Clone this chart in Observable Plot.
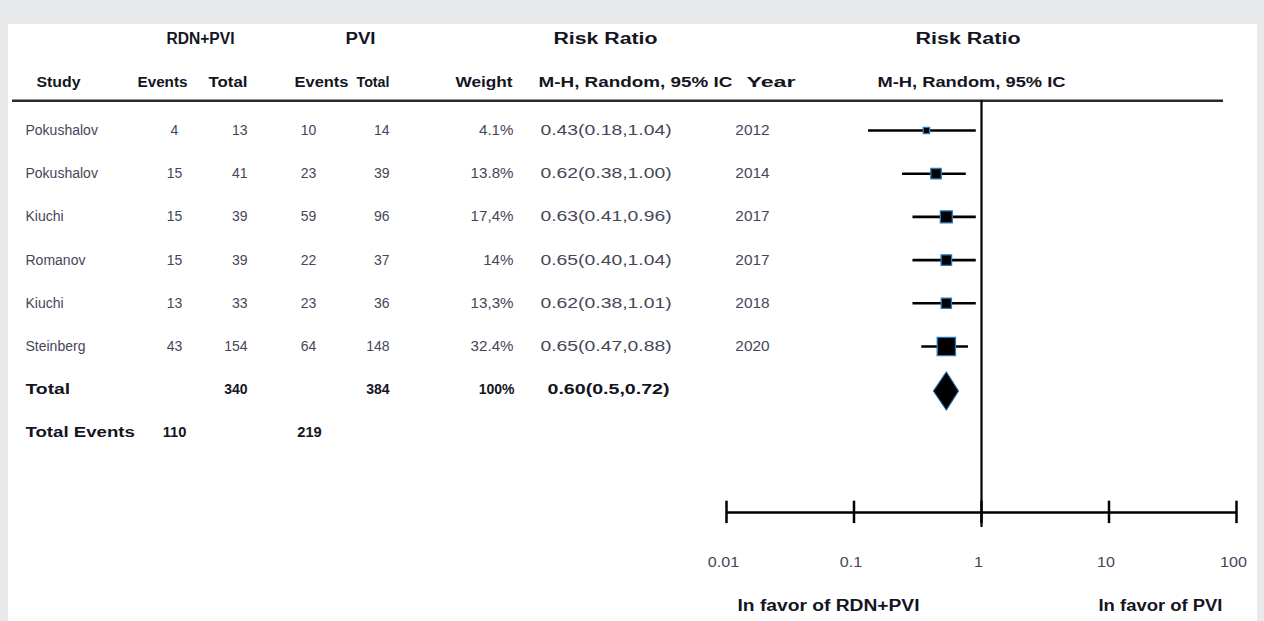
<!DOCTYPE html>
<html><head><meta charset="utf-8">
<script src="https://cdn.jsdelivr.net/npm/d3@7"></script>
<script src="https://cdn.jsdelivr.net/npm/@observablehq/plot@0.6"></script>
<style>
html,body{margin:0;padding:0;background:#e8e9eb;width:1264px;height:621px;overflow:hidden;}
#panel{position:absolute;left:8px;top:24px;width:1249px;height:597px;background:#fff;overflow:hidden;}
#panel svg{position:absolute;left:-8px;top:-24px;max-width:none !important;width:1264px;height:621px;}
</style></head><body><div id="panel"></div>
<script>
// ---- data ----
const studies = ["Pokushalov","Pokushalov","Kiuchi","Romanov","Kiuchi","Steinberg"];
const rdnEvents = ["4","15","15","15","13","43"];
const rdnTotal = ["13","41","39","39","33","154"];
const pviEvents = ["10","23","59","22","23","64"];
const pviTotal = ["14","39","96","37","36","148"];
const weightLabels = ["4.1%","13.8%","17,4%","14%","13,3%","32.4%"];
const weights = [4.1,13.8,17.4,14,13.3,32.4];
const rrLabels = ["0.43(0.18,1.04)","0.62(0.38,1.00)","0.63(0.41,0.96)","0.65(0.40,1.04)","0.62(0.38,1.01)","0.65(0.47,0.88)"];
const years = ["2012","2014","2017","2017","2018","2020"];
// positions of the drawn squares / whiskers
const rrPoint = [0.37,0.44,0.53,0.53,0.53,0.53];
const rrLow   = [0.13,0.24,0.29,0.29,0.29,0.34];
const rrHigh  = [0.91,0.76,0.91,0.91,0.91,0.79];
// pooled
const totalRow = {study:"Total", rdnTotal:"340", pviTotal:"384", weight:"100%", rr:"0.60(0.5,0.72)"};
const eventsRow = {study:"Total Events", rdnEvents:"110", pviEvents:"219"};
const pooledPoint = 0.53, pooledLow = 0.42, pooledHigh = 0.66;
const axisTicks = [0.01,0.1,1,10,100];
const axisTickLabels = ["0.01","0.1","1","10","100"];
const groupHeaders = ["RDN+PVI","PVI","Risk Ratio","Risk Ratio"];
const colHeaders = ["Study","Events","Total","Events","Total","Weight","M-H, Random, 95% IC","Year","M-H, Random, 95% IC"];
const favorLabels = ["In favor of RDN+PVI","In favor of PVI"];

// ---- table rows ----
const rows = studies.map((s,i)=>({i, study:s, rdnEvents:rdnEvents[i], rdnTotal:rdnTotal[i],
  pviEvents:pviEvents[i], pviTotal:pviTotal[i], weight:weightLabels[i], w:weights[i],
  rr:rrLabels[i], year:years[i], pt:rrPoint[i], lo:rrLow[i], hi:rrHigh[i]}));
const TOTAL_I = 6, EVENTS_I = 7;

// ---- layout (row units on the y scale; pixel offsets / text widths for the table) ----
const L = {hdr1:-2.12, hdr2:-1.1, sep:-0.69, axis:8.84, tickHalf:0.26, vEnd:9.19, tickLab:10.0, favor:11.0, diamondHalf:0.44, diamondY:6.03};
const cols = [
  {f:"study", x:25, a:"start", s:1.0},
  {f:"rdnEvents", x:174, a:"middle", s:1.0},
  {f:"rdnTotal", x:247, a:"end", s:1.0},
  {f:"pviEvents", x:308, a:"middle", s:1.0},
  {f:"pviTotal", x:389, a:"end", s:1.0},
  {f:"weight", x:513, a:"end", s:1.08},
  {f:"rr", x:540, a:"start", s:1.38},
  {f:"year", x:752, a:"middle", s:1.1}
];
const totCols = {study:{x:25,a:"start",s:1.38,fs:14}, rdnEvents:{x:174,a:"middle",s:1.05,fs:14}, rdnTotal:{x:247,a:"end",s:1.0,fs:14},
  pviEvents:{x:309,a:"middle",s:1.05,fs:14}, pviTotal:{x:389,a:"end",s:1.0,fs:14}, weight:{x:514,a:"end",s:1.0,fs:14}, rr:{x:547,a:"start",s:1.4,fs:14}};
const hdr1Pos = [{x:166,w:68},{x:345,w:30},{x:553,w:104},{x:915,w:105}];
const hdr2Pos = [{x:36,w:44},{x:137,w:50},{x:208,w:39},{x:294,w:54},{x:356,w:33},{x:455,w:57},{x:538,w:194},{x:746,w:49},{x:877,w:188}];
const favorPos = [{x:737,w:182},{x:1098,w:124}];

const ROW_FILL = "#464659", HDR_FILL = "#15151f";

const marks = [];
groupHeaders.forEach((t,k)=>marks.push(Plot.text([t],{y:()=>L.hdr1, text:d=>d, frameAnchor:"left", dx:hdr1Pos[k].x, textAnchor:"start", fontSize:16, fontWeight:"bold", fill:HDR_FILL, ariaDescription:"w:"+hdr1Pos[k].w})));
colHeaders.forEach((t,k)=>marks.push(Plot.text([t],{y:()=>L.hdr2, text:d=>d, frameAnchor:"left", dx:hdr2Pos[k].x, textAnchor:"start", fontSize:14, fontWeight:"bold", fill:HDR_FILL, ariaDescription:"w:"+hdr2Pos[k].w})));
// separator under the header
marks.push(Plot.ruleY([L.sep],{insetLeft:12, insetRight:41, stroke:"#2a2a2a", strokeWidth:2.5}));
// study rows
cols.forEach(c=>marks.push(Plot.text(rows,{y:"i", text:c.f, frameAnchor:"left", dx:c.x, textAnchor:c.a, fontSize:14, fill:ROW_FILL, ariaDescription:"s:"+c.s})));
// total rows
Object.entries(totCols).forEach(([f,c])=>{
  if (totalRow[f]!=null) marks.push(Plot.text([totalRow],{y:()=>TOTAL_I, text:f, frameAnchor:"left", dx:c.x, textAnchor:c.a, fontSize:c.fs, fontWeight:"bold", fill:HDR_FILL, ariaDescription:"s:"+c.s}));
  if (eventsRow[f]!=null) marks.push(Plot.text([eventsRow],{y:()=>EVENTS_I, text:f, frameAnchor:"left", dx:c.x, textAnchor:c.a, fontSize:c.fs, fontWeight:"bold", fill:HDR_FILL, ariaDescription:"s:"+(f==="study"?1.33:c.s)}));
});
// forest: line of no effect, axis
marks.push(Plot.ruleX([1],{y1:L.sep, y2:L.vEnd, stroke:"#000", strokeWidth:2.2}));
marks.push(Plot.ruleY([L.axis],{x1:axisTicks[0], x2:axisTicks[axisTicks.length-1], stroke:"#000", strokeWidth:2.5}));
marks.push(Plot.ruleX(axisTicks,{y1:L.axis-L.tickHalf, y2:L.axis+L.tickHalf, stroke:"#000", strokeWidth:2.5}));
marks.push(Plot.text(axisTicks,{x:d=>d, y:()=>L.tickLab, text:(d,k)=>axisTickLabels[k], dx:-3, fontSize:14, fill:ROW_FILL, ariaDescription:"s:1.15"}));
// whiskers and squares
marks.push(Plot.ruleY(rows,{y:"i", x1:"lo", x2:"hi", stroke:"#000", strokeWidth:2.6}));
marks.push(Plot.dot(rows,{x:"pt", y:"i", r:"w", symbol:"square", fill:"#000", stroke:"#2a7bbd", strokeWidth:1.3}));
// pooled diamond
const diamond = [
  {x:pooledLow, y:L.diamondY}, {x:pooledPoint, y:L.diamondY-L.diamondHalf},
  {x:pooledHigh, y:L.diamondY}, {x:pooledPoint, y:L.diamondY+L.diamondHalf}, {x:pooledLow, y:L.diamondY}
];
marks.push(Plot.line(diamond,{x:"x", y:"y", fill:"#000", stroke:"#1e5f99", strokeWidth:1.2, curve:"linear"}));
// favor labels
favorLabels.forEach((t,k)=>marks.push(Plot.text([t],{y:()=>L.favor, text:d=>d, frameAnchor:"left", dx:favorPos[k].x, textAnchor:"start", fontSize:16, fontWeight:"bold", fill:HDR_FILL, ariaDescription:"w:"+favorPos[k].w})));

const chart = Plot.plot({
  width:1264, height:621, margin:0,
  x:{type:"log", domain:[0.01,100], range:[726,1236], axis:null},
  y:{domain:[0,5], range:[130,346], axis:null},
  r:{type:"linear", domain:[0,32.4], range:[2.6,10.3]},
  style:{fontFamily:"'Liberation Sans', Arial, sans-serif", background:"transparent", overflow:"visible", maxWidth:"none"},
  marks
});
document.getElementById("panel").appendChild(chart);
// stretch text horizontally like the reference's wide lettering
d3.select(chart).selectAll("g[aria-description]").each(function(){
  const [kind, val] = this.getAttribute("aria-description").split(":");
  const v = +val;
  d3.select(this).selectAll("text").each(function(){
    const w = this.getComputedTextLength();
    const target = kind === "w" ? v : w * v;
    if (Math.abs(target - w) > 0.5) {
      this.setAttribute("textLength", target.toFixed(1));
      this.setAttribute("lengthAdjust", "spacingAndGlyphs");
    }
  });
});
</script></body></html>
